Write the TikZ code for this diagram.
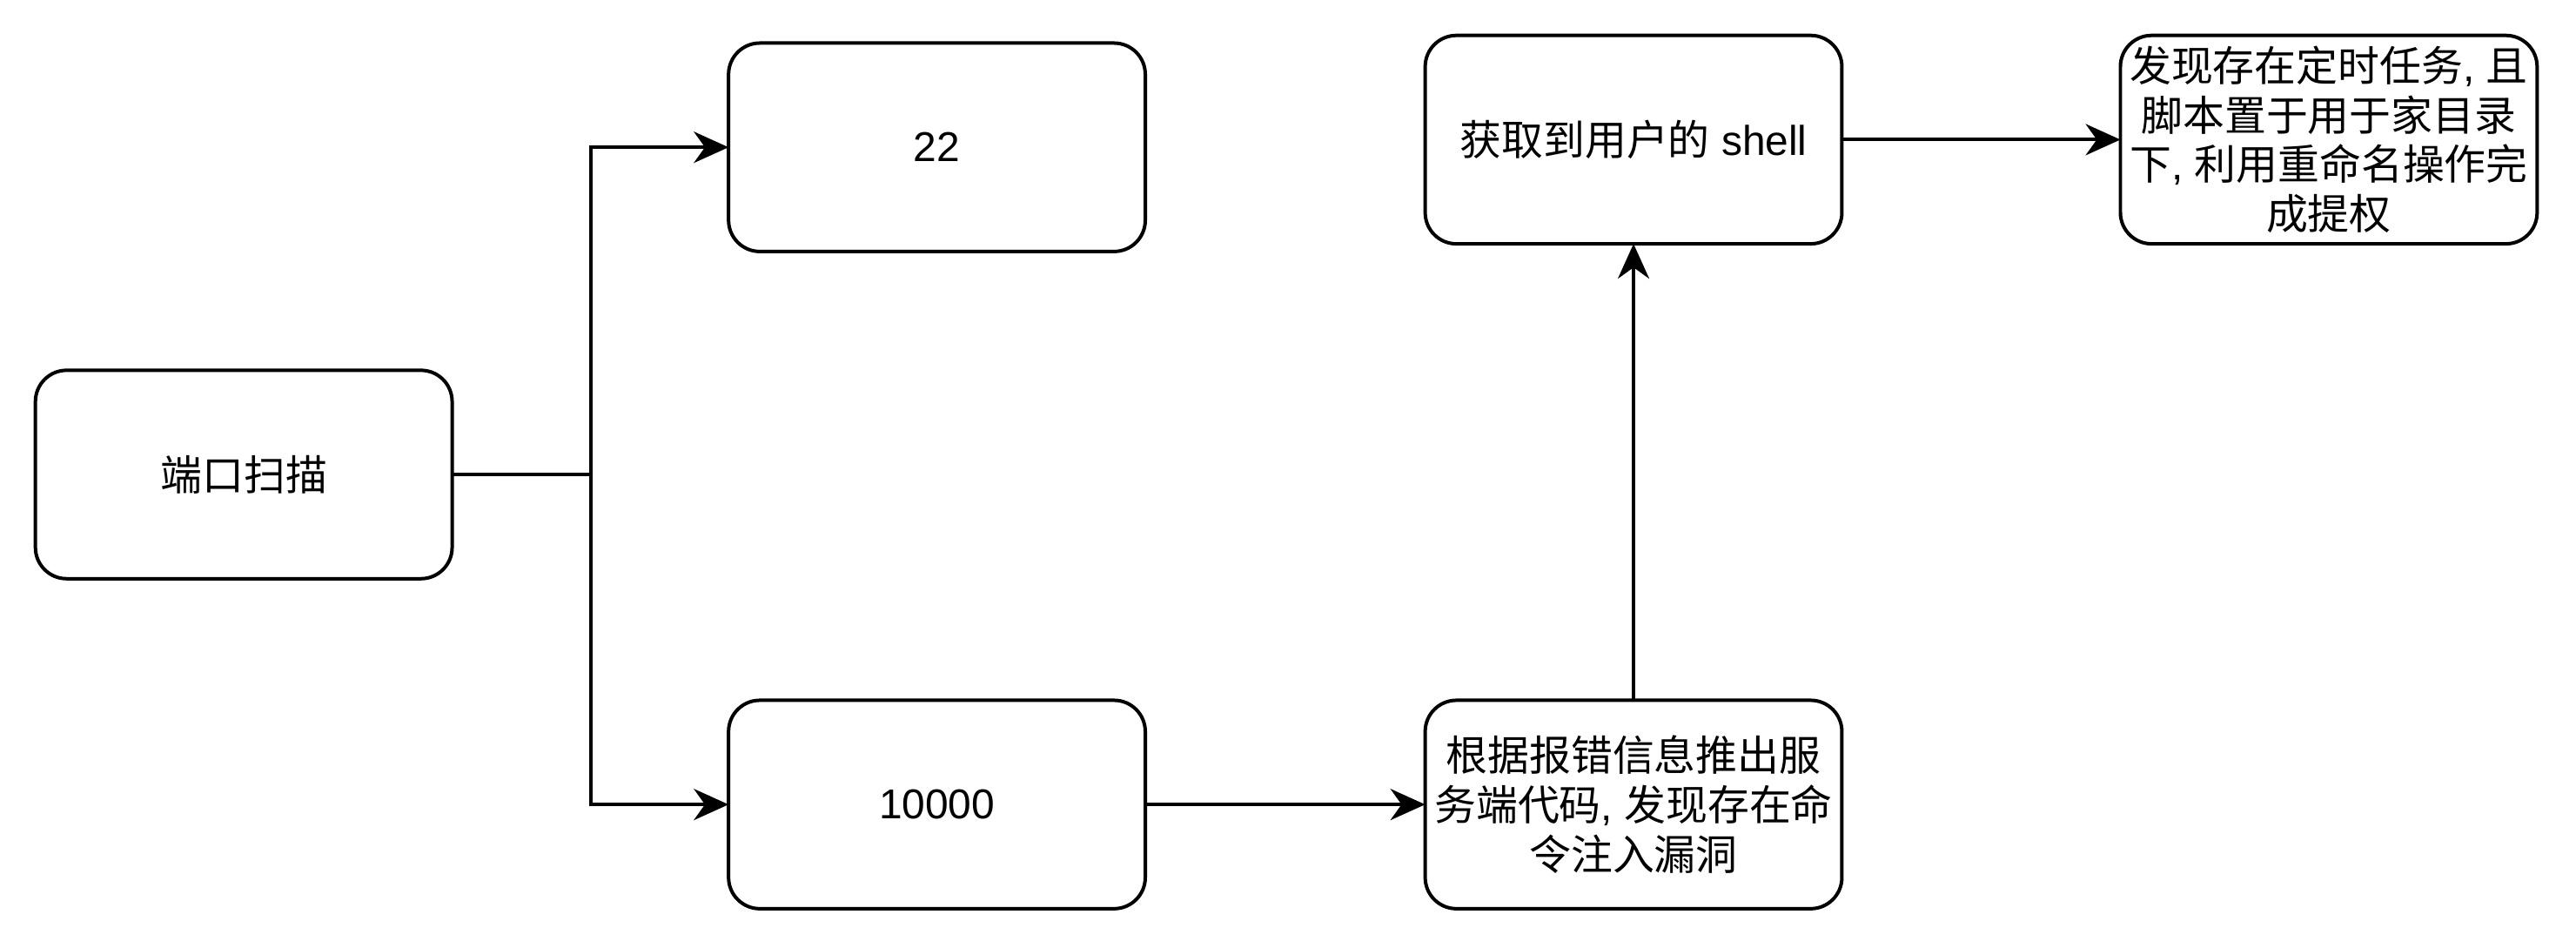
\documentclass[tikz,border=0pt]{standalone}
\usepackage{fontspec}
\setmainfont{Liberation Sans}
\newfontfamily\cjk{Noto Sans CJK SC}
\usetikzlibrary{arrows.meta}
\begin{document}
\begin{tikzpicture}[x=1pt,y=-1pt,
  box/.style={draw, line width=1pt, rounded corners=9pt, minimum width=120pt,
    minimum height=60pt, inner sep=0pt, outer sep=0pt, align=center,
    font=\fontsize{12}{14.2}\selectfont, anchor=north west},
  conn/.style={line width=1pt, -{Stealth[length=10pt,width=9pt,inset=3.2pt]}},
  plain/.style={line width=1pt}
]
\fill[white] (0,0) rectangle (741.8,272.7);
\useasboundingbox (0,0) rectangle (741.8,272.7);
\node[box] (scan) at (10.2,106.6) {\cjk 端口扫描};
\node[box] (p22) at (209.8,12.4) {22};
\node[box] (p10000) at (209.8,201.6) {10000};
\node[box] (exploit) at (410.4,201.6) {{\cjk 根据报错信息推出服}\\{\cjk 务端代码}, {\cjk 发现存在命}\\{\cjk 令注入漏洞}};
\node[box] (shell) at (410.4,10.2) {{\cjk 获取到用户的} shell};
\node[box] (priv) at (610.6,10.2) {{\cjk 发现存在定时任务}, {\cjk 且}\\{\cjk 脚本置于用于家目录}\\{\cjk 下}, {\cjk 利用重命名操作完}\\{\cjk 成提权}};
\coordinate (fork) at (scan.east -| 170.2,0);
\draw[plain] (scan.east) -- (fork);
\draw[conn] (fork) |- (p22.west);
\draw[conn] (fork) |- (p10000.west);
\draw[conn] (p10000.east) -- (exploit.west);
\draw[conn] (exploit.north) -- (shell.south);
\draw[conn] (shell.east) -- (priv.west);
\end{tikzpicture}
\end{document}
